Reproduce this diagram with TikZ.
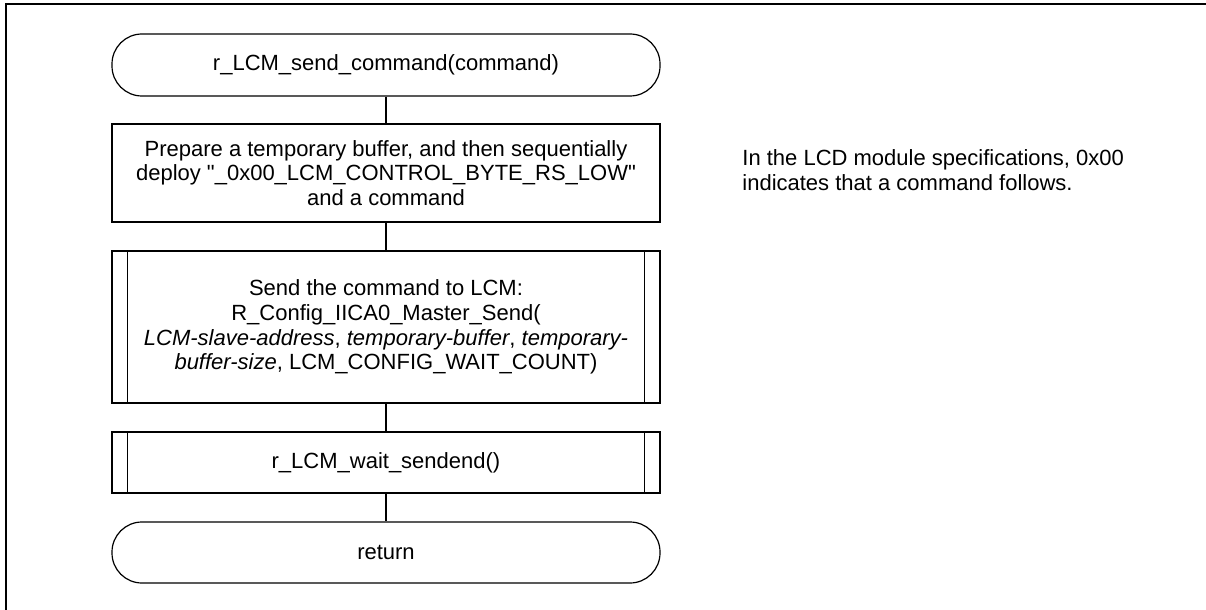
\documentclass[tikz,border=0pt]{standalone}
\usepackage{fontspec}
\setmainfont{Liberation Sans}[Ligatures=TeXOff]
\begin{document}
\begin{tikzpicture}[x=0.5pt,y=-0.5pt,
    every node/.style={font=\fontsize{11}{12.4}\selectfont},
    term/.style={draw, line width=0.6pt, rounded corners=15pt, minimum width=274pt, minimum height=31pt, inner sep=0pt},
    proc/.style={draw, line width=0.6pt, minimum width=274pt, align=center, inner sep=0pt},
    flow/.style={line width=0.6pt}]
    \useasboundingbox (0,0) rectangle (1206,610);
    \draw[line width=0.7pt] (6,610) -- (6,4) -- (1206,4);
    \node[term] (start) at (386,65) {r\_LCM\_send\_command(command)};
    \node[proc, minimum height=49pt] (prep) at (386,173) {Prepare a temporary buffer, and then sequentially\\deploy "\_0x00\_LCM\_CONTROL\_BYTE\_RS\_LOW"\\and a command};
    \node[proc, minimum height=76pt] (send) at (386,327) {Send the command to LCM:\\R\_Config\_IICA0\_Master\_Send(\\\textit{LCM-slave-address}, \textit{temporary-buffer}, \textit{temporary-}\\\textit{buffer-size}, LCM\_CONFIG\_WAIT\_COUNT)};
    \node[proc, minimum height=30.5pt] (wait) at (386,462.5) {r\_LCM\_wait\_sendend()};
    \node[term, minimum height=30.5pt] (ret) at (386,552.5) {return};
    % side bars of the predefined processes
    \draw[flow] ([xshift=8pt]send.north west) -- ([xshift=8pt]send.south west);
    \draw[flow] ([xshift=-8pt]send.north east) -- ([xshift=-8pt]send.south east);
    \draw[flow] ([xshift=8pt]wait.north west) -- ([xshift=8pt]wait.south west);
    \draw[flow] ([xshift=-8pt]wait.north east) -- ([xshift=-8pt]wait.south east);
    \draw[flow] (start) -- (prep);
    \draw[flow] (prep) -- (send);
    \draw[flow] (send) -- (wait);
    \draw[flow] (wait) -- (ret);
    \node[anchor=west, align=left, inner sep=0pt] (note) at (742,170) {In the LCD module specifications, 0x00\\indicates that a command follows.};
\end{tikzpicture}
\end{document}
